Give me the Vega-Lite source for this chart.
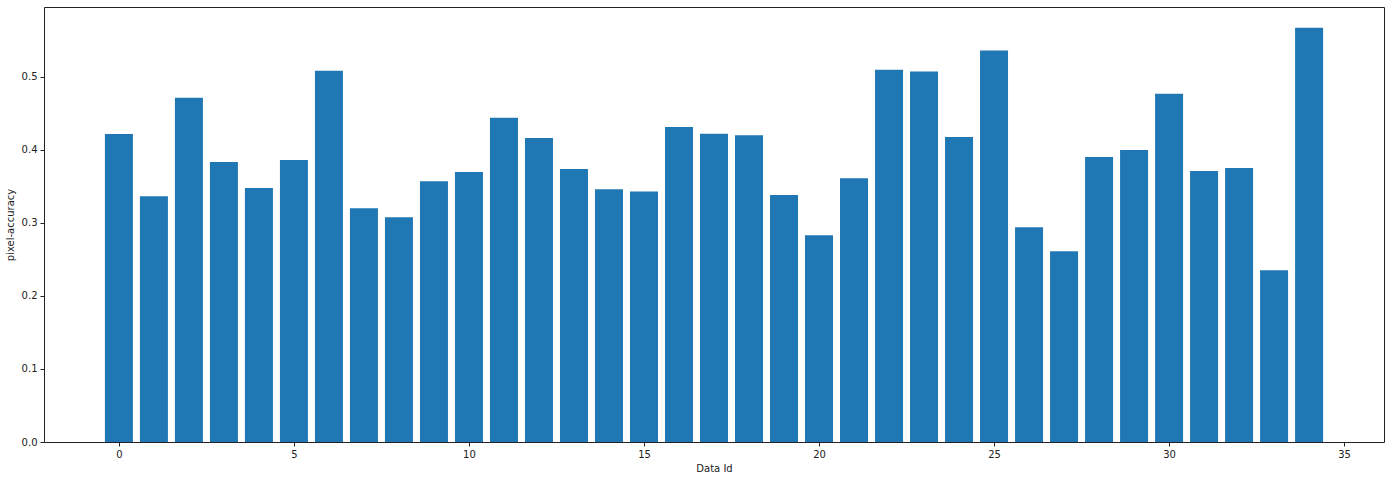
{
  "$schema": "https://vega.github.io/schema/vega-lite/v6.json",
  "width": 1340,
  "height": 435,
  "autosize": {"type": "none"},
  "padding": {"left": 44, "top": 7, "right": 6, "bottom": 38},
  "background": "white",
  "config": {
    "view": {"stroke": "#222", "strokeWidth": 1},
    "font": "DejaVu Sans",
    "axis": {
      "grid": false,
      "domain": false,
      "tickColor": "#222",
      "tickSize": 4,
      "labelFontSize": 10,
      "labelColor": "#222",
      "titleFontSize": 10,
      "titleFontWeight": "normal",
      "titleColor": "#222",
      "labelFont": "DejaVu Sans",
      "titleFont": "DejaVu Sans"
    }
  },
  "data": {
    "values": [
      {"id": 0, "acc": 0.4217},
      {"id": 1, "acc": 0.3365},
      {"id": 2, "acc": 0.4712},
      {"id": 3, "acc": 0.3832},
      {"id": 4, "acc": 0.3475},
      {"id": 5, "acc": 0.386},
      {"id": 6, "acc": 0.508},
      {"id": 7, "acc": 0.320},
      {"id": 8, "acc": 0.3077},
      {"id": 9, "acc": 0.357},
      {"id": 10, "acc": 0.3695},
      {"id": 11, "acc": 0.4437},
      {"id": 12, "acc": 0.416},
      {"id": 13, "acc": 0.3736},
      {"id": 14, "acc": 0.346},
      {"id": 15, "acc": 0.343},
      {"id": 16, "acc": 0.431},
      {"id": 17, "acc": 0.422},
      {"id": 18, "acc": 0.420},
      {"id": 19, "acc": 0.338},
      {"id": 20, "acc": 0.283},
      {"id": 21, "acc": 0.361},
      {"id": 22, "acc": 0.5096},
      {"id": 23, "acc": 0.507},
      {"id": 24, "acc": 0.4176},
      {"id": 25, "acc": 0.5357},
      {"id": 26, "acc": 0.294},
      {"id": 27, "acc": 0.261},
      {"id": 28, "acc": 0.390},
      {"id": 29, "acc": 0.3997},
      {"id": 30, "acc": 0.4766},
      {"id": 31, "acc": 0.371},
      {"id": 32, "acc": 0.375},
      {"id": 33, "acc": 0.235},
      {"id": 34, "acc": 0.567}
    ]
  },
  "mark": {"type": "bar", "color": "#1f77b4", "width": 28},
  "encoding": {
    "x": {
      "field": "id",
      "type": "quantitative",
      "title": "Data Id",
      "scale": {"domain": [-2.14, 36.14], "nice": false, "zero": false, "padding": 0},
      "axis": {"values": [0, 5, 10, 15, 20, 25, 30, 35], "format": "d", "titlePadding": 4, "labelPadding": 3, "labelFlush": false}
    },
    "y": {
      "field": "acc",
      "type": "quantitative",
      "title": "pixel-accuracy",
      "scale": {"domain": [0, 0.5954], "nice": false},
      "axis": {"values": [0, 0.1, 0.2, 0.3, 0.4, 0.5], "format": ".1f", "titlePadding": 6, "labelPadding": 3}
    }
  }
}
